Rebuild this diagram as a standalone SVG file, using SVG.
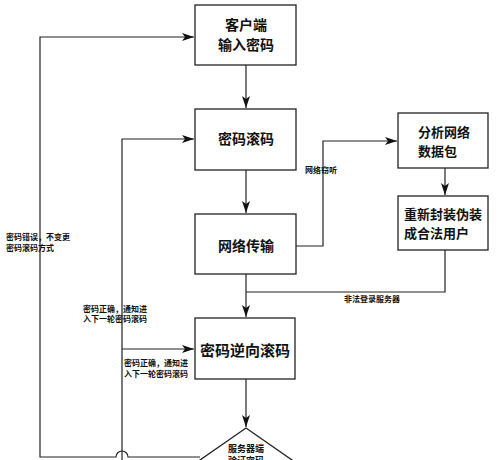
<svg xmlns="http://www.w3.org/2000/svg" width="500" height="460" viewBox="0 0 500 460">
<defs>
<marker id="arr" viewBox="0 0 12 8" refX="12" refY="4" markerWidth="12" markerHeight="8" markerUnits="userSpaceOnUse" orient="auto">
<path d="M0,0 L12,4 L0,8 L3,4 Z" fill="#111"/>
</marker>
</defs>
<style>
.box{fill:#fff;stroke:#222;stroke-width:1.3}
.ln{fill:none;stroke:#222;stroke-width:1.2}
.t{font-family:"Noto Sans CJK SC","Noto Sans",sans-serif;font-weight:bold;fill:#111}
.big{font-size:14px}
.mid{font-size:13px}
.sm{font-size:8px}
</style>
<rect width="500" height="460" fill="#fff"/>
<g id="connectors">
<path class="ln" d="M246,65 V108" marker-end="url(#arr)"/>
<path class="ln" d="M246,170 V213" marker-end="url(#arr)"/>
<path class="ln" d="M246,274 V317" marker-end="url(#arr)"/>
<path class="ln" d="M246,379 V427" marker-end="url(#arr)"/>
<path class="ln" d="M296,246 H323 V141 H397" marker-end="url(#arr)"/>
<path class="ln" d="M445,168 V195" marker-end="url(#arr)"/>
<path class="ln" d="M445,250 V292 H246"/>
<path class="ln" d="M200,457 H128 A6,6 0 0 0 116,457 H40 V37 H194" marker-end="url(#arr)"/>
<path class="ln" d="M122,462 V139 H194" marker-end="url(#arr)"/>
<path class="ln" d="M122,349 H194" marker-end="url(#arr)"/>
<text class="t sm" x="305" y="173">网络窃听</text>
<text class="t sm" x="372" y="302" text-anchor="middle">非法登录服务器</text>
<text class="t sm" x="6" y="240">密码错误，不变更</text>
<text class="t sm" x="6" y="251">密码滚码方式</text>
<text class="t sm" x="83" y="312">密码正确，通知进</text>
<text class="t sm" x="83" y="322">入下一轮密码滚码</text>
<text class="t sm" x="124" y="366">密码正确，通知进</text>
<text class="t sm" x="124" y="377">入下一轮密码滚码</text>
</g>
<g id="n1">
<rect class="box" x="195" y="5" width="101" height="60"/>
<text class="t big" x="246" y="30" text-anchor="middle">客户端</text>
<text class="t big" x="246" y="50" text-anchor="middle">输入密码</text>
</g>
<g id="n2">
<rect class="box" x="195" y="109" width="101" height="61"/>
<text class="t big" x="246" y="144" text-anchor="middle">密码滚码</text>
</g>
<g id="n3">
<rect class="box" x="195" y="214" width="101" height="60"/>
<text class="t big" x="246" y="251" text-anchor="middle">网络传输</text>
</g>
<g id="n4">
<rect class="box" x="195" y="318" width="100" height="61"/>
<text class="t" font-size="15" x="245" y="356" text-anchor="middle">密码逆向滚码</text>
</g>
<g id="n5">
<rect class="box" x="398" y="113" width="90" height="55"/>
<text class="t mid" x="418" y="137">分析网络</text>
<text class="t mid" x="418" y="156">数据包</text>
</g>
<g id="n6">
<rect class="box" x="398" y="196" width="90" height="54"/>
<text class="t mid" x="404" y="219">重新封装伪装</text>
<text class="t mid" x="404" y="238">成合法用户</text>
</g>
<g id="n7">
<path class="box" d="M246,428 L292,460 L246,492 L200,460 Z"/>
<text class="t" font-size="9" x="246" y="452" text-anchor="middle">服务器端</text>
<text class="t" font-size="9" x="246" y="464" text-anchor="middle">验证密码</text>
</g>
</svg>
